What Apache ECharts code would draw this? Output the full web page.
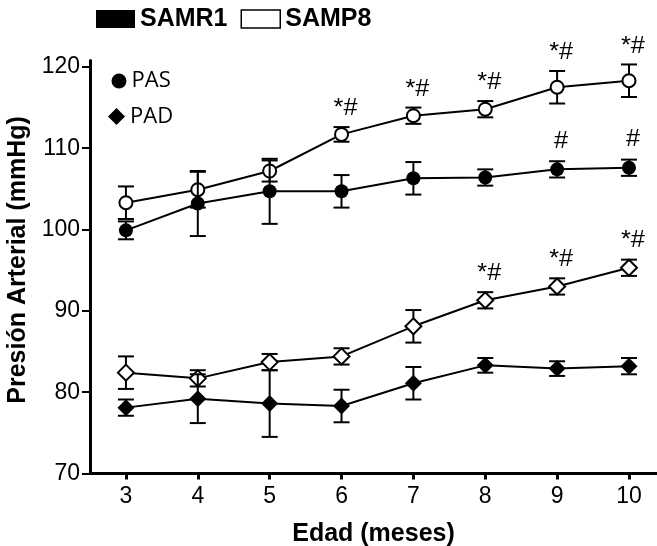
<!DOCTYPE html>
<html>
<head>
<meta charset="utf-8">
<script src="https://cdn.jsdelivr.net/npm/echarts@6/dist/echarts.min.js"></script>
<style>
  html, body { margin: 0; padding: 0; background: #fff; }
  #chart { width: 657px; height: 546px; }
</style>
</head>
<body>
<div id="chart"></div>
<script>
// Age in months
const months = [3, 4, 5, 6, 7, 8, 9, 10];
const xTicks = [3, 4, 5, 6, 7, 8, 9, 10];
const yTicks = [70, 80, 90, 100, 110, 120];

// Systolic pressure (PAS), mean and SEM
const samr1PAS    = [99.9, 103.2, 104.7, 104.7, 106.3, 106.4, 107.4, 107.6];
const samr1PASsem = [1.1, 4.0, 4.0, 2.0, 2.0, 1.0, 1.0, 1.0];
const samp8PAS    = [103.3, 104.9, 107.2, 111.7, 114.0, 114.8, 117.5, 118.3];
const samp8PASsem = [2.0, 2.2, 1.3, 0.9, 1.0, 1.0, 2.0, 2.0];

// Diastolic pressure (PAD), mean and SEM
const samr1PAD    = [78.1, 79.2, 78.6, 78.3, 81.1, 83.3, 82.9, 83.2];
const samr1PADsem = [1.0, 3.0, 4.1, 2.0, 2.0, 0.9, 0.9, 1.0];
const samp8PAD    = [82.4, 81.7, 83.7, 84.4, 88.1, 91.3, 93.0, 95.3];
const samp8PADsem = [2.0, 1.0, 1.0, 1.0, 2.0, 1.0, 1.0, 1.0];

// Significance marks drawn above the error bars
const sigSamp8PAS = ['', '', '', '*#', '*#', '*#', '*#', '*#'];
const sigSamr1PAS = ['', '', '', '', '', '', '#', '#'];
const sigSamp8PAD = ['', '', '', '', '', '*#', '*#', '*#'];

const INK = '#000';

function errorBars(name, mean, sem, z) {
  return {
    type: 'custom', name, z, silent: true, animation: false,
    data: months.map((m, i) => [m, mean[i] - sem[i], mean[i] + sem[i]]),
    renderItem(params, api) {
      const x = api.value(0);
      const lo = api.coord([x, api.value(1)]);
      const hi = api.coord([x, api.value(2)]);
      const hw = 8;
      const st = { stroke: INK, lineWidth: 2 };
      return {
        type: 'group',
        children: [
          { type: 'line', shape: { x1: lo[0], y1: lo[1], x2: hi[0], y2: hi[1] }, style: st },
          { type: 'line', shape: { x1: lo[0] - hw, y1: lo[1], x2: lo[0] + hw, y2: lo[1] }, style: st },
          { type: 'line', shape: { x1: hi[0] - hw, y1: hi[1], x2: hi[0] + hw, y2: hi[1] }, style: st }
        ]
      };
    }
  };
}

function meanLine(name, mean, symbol, size, filled, z) {
  return {
    type: 'line', name, z, animation: false,
    data: months.map((m, i) => [m, mean[i]]),
    symbol, symbolSize: size, showAllSymbol: true,
    lineStyle: { color: INK, width: 2 },
    itemStyle: filled
      ? { color: INK, borderWidth: 0 }
      : { color: '#fff', borderColor: INK, borderWidth: 2 },
    emphasis: { disabled: true }
  };
}

function sigMarks(name, mean, sem, marks, gap) {
  return {
    type: 'custom', name, z: 6, silent: true, animation: false,
    data: months.map((m, i) => [m, mean[i] + sem[i]]),
    renderItem(params, api) {
      const t = marks[params.dataIndex];
      if (!t) return null;
      const p = api.coord([api.value(0), api.value(1)]);
      return {
        type: 'text', x: p[0] + 4, y: p[1] - gap, scaleX: 1.1,
        style: { text: t, font: '23px "Liberation Sans", Arial, sans-serif', fill: INK, align: 'center', verticalAlign: 'middle' }
      };
    }
  };
}

const chart = echarts.init(document.getElementById('chart'), null, { renderer: 'canvas' });

chart.setOption({
  animation: false,
  backgroundColor: '#fff',
  grid: { left: 90, right: 0, top: 60.4, bottom: 72.5, containLabel: false, outerBoundsMode: 'none' },
  legend: [
    {
      data: [
        { name: 'SAMR1', icon: 'rect', itemStyle: { color: INK, borderWidth: 0 } },
        { name: 'SAMP8', icon: 'rect', itemStyle: { color: '#fff', borderColor: INK, borderWidth: 1.5 } }
      ],
      left: 91, top: 1.5, itemWidth: 39, itemHeight: 18, itemGap: 13, selectedMode: false,
      textStyle: { fontFamily: 'Liberation Sans', fontWeight: 'bold', fontSize: 25, color: INK }
    },
    {
      data: [{ name: 'PAS', icon: 'circle', itemStyle: { color: INK } }],
      left: 106.5, top: 65, itemWidth: 15, itemHeight: 15, selectedMode: false,
      textStyle: { fontFamily: 'Open Sans', fontSize: 22, color: INK }
    },
    {
      data: [{ name: 'PAD', icon: 'diamond', itemStyle: { color: INK } }],
      left: 103, top: 100.5, itemWidth: 17, itemHeight: 17, selectedMode: false,
      textStyle: { fontFamily: 'Open Sans', fontSize: 22, color: INK }
    }
  ],
  xAxis: {
    type: 'value', min: 2.5, max: 10.39,
    name: 'Edad (meses)', nameLocation: 'middle', nameGap: 48,
    nameTextStyle: { fontFamily: 'Liberation Sans', fontWeight: 'bold', fontSize: 25, color: INK },
    axisLine: { show: true, onZero: false, lineStyle: { color: INK, width: 3 } },
    axisTick: { show: true, length: 6, lineStyle: { color: INK, width: 3 }, customValues: xTicks },
    axisLabel: { customValues: xTicks, margin: 12, fontFamily: 'Liberation Sans', fontSize: 23, color: INK },
    splitLine: { show: false }
  },
  yAxis: {
    type: 'value', min: 70, max: 120.8,
    name: 'Presión Arterial (mmHg)', nameLocation: 'middle', nameGap: 54,
    nameTextStyle: { fontFamily: 'Liberation Sans', fontWeight: 'bold', fontSize: 25, color: INK, padding: [0, 0, 0, 14] },
    axisLine: { show: true, onZero: false, lineStyle: { color: INK, width: 3 } },
    axisTick: { show: true, length: 8, lineStyle: { color: INK, width: 2 }, customValues: yTicks },
    axisLabel: { customValues: yTicks, margin: 10, fontFamily: 'Liberation Sans', fontSize: 23, color: INK },
    splitLine: { show: false }
  },
  series: [
    // legend-only entries for the measurement type
    { type: 'line', name: 'PAS', data: [], itemStyle: { color: INK } },
    { type: 'line', name: 'PAD', data: [], itemStyle: { color: INK } },

    errorBars('SAMP8 PAS SEM', samp8PAS, samp8PASsem, 1),
    errorBars('SAMP8 PAD SEM', samp8PAD, samp8PADsem, 1),
    meanLine('SAMP8', samp8PAS, 'circle', 13, false, 2),
    meanLine('SAMP8', samp8PAD, 'diamond', 16, false, 2),

    errorBars('SAMR1 PAS SEM', samr1PAS, samr1PASsem, 3),
    errorBars('SAMR1 PAD SEM', samr1PAD, samr1PADsem, 3),
    meanLine('SAMR1', samr1PAS, 'circle', 14, true, 4),
    meanLine('SAMR1', samr1PAD, 'diamond', 17, true, 4),

    sigMarks('SAMP8 PAS sig', samp8PAS, samp8PASsem, sigSamp8PAS, 18),
    sigMarks('SAMR1 PAS sig', samr1PAS, samr1PASsem, sigSamr1PAS, 20),
    sigMarks('SAMP8 PAD sig', samp8PAD, samp8PADsem, sigSamp8PAD, 19)
  ]
});
</script>
</body>
</html>
